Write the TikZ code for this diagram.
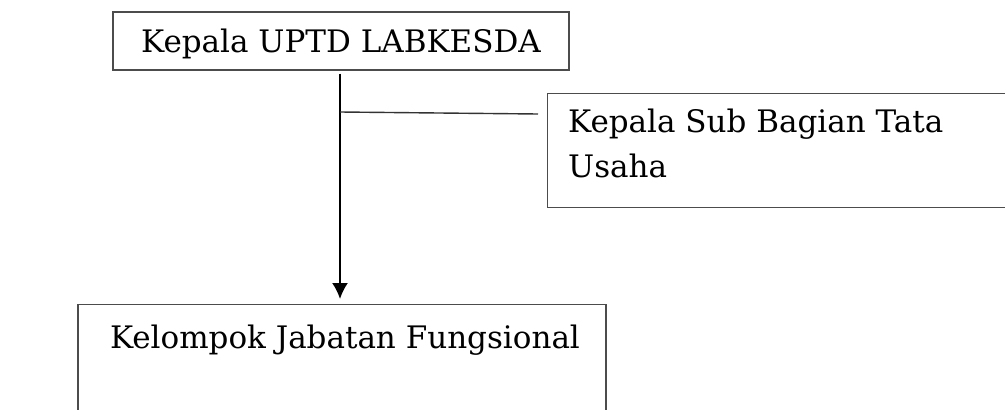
\documentclass[tikz,border=0pt]{standalone}
\usepackage{fontspec}
\setmainfont{DejaVu Serif}
\usepackage{tikz}
\usetikzlibrary{arrows.meta,positioning}

\begin{document}
\begin{tikzpicture}[x=1pt,y=-1pt,
    kotak/.style={draw=black!70, line width=1.3pt, inner sep=0pt},
    teks/.style={font=\fontsize{31}{45}\selectfont, inner sep=0pt}]
    \clip (0,0) rectangle (1005,410);
    % kotak-kotak
    \node[kotak, teks, text depth=0pt, minimum width=456pt,
        minimum height=58pt] (kepala) at (341,41) {Kepala UPTD LABKESDA};
    \node[kotak, anchor=north west, minimum width=480pt,
        minimum height=114pt] (tu) at (547,93) {};
    \node[teks, anchor=base west, align=left] (tuteks) at (568,177)
        {Kepala Sub Bagian Tata\\Usaha};
    \node[kotak, anchor=north, minimum width=528pt,
        minimum height=140pt] (fungsional) at (342,304) {};
    \node[teks, anchor=base] (fungsteks) at (345,348)
        {Kelompok Jabatan Fungsional};
    % garis
    \coordinate (cabang) at (340,112);
    \coordinate (ujung) at (538,114);
    \draw[line width=2pt, -{Latex[length=16pt,width=16pt]}]
        ([yshift=-3pt]kepala.south -| cabang) -- ([yshift=5pt]fungsional.north -| cabang);
    \draw[line width=1.4pt, black!80] (cabang) -- (ujung);
\end{tikzpicture}
\end{document}
